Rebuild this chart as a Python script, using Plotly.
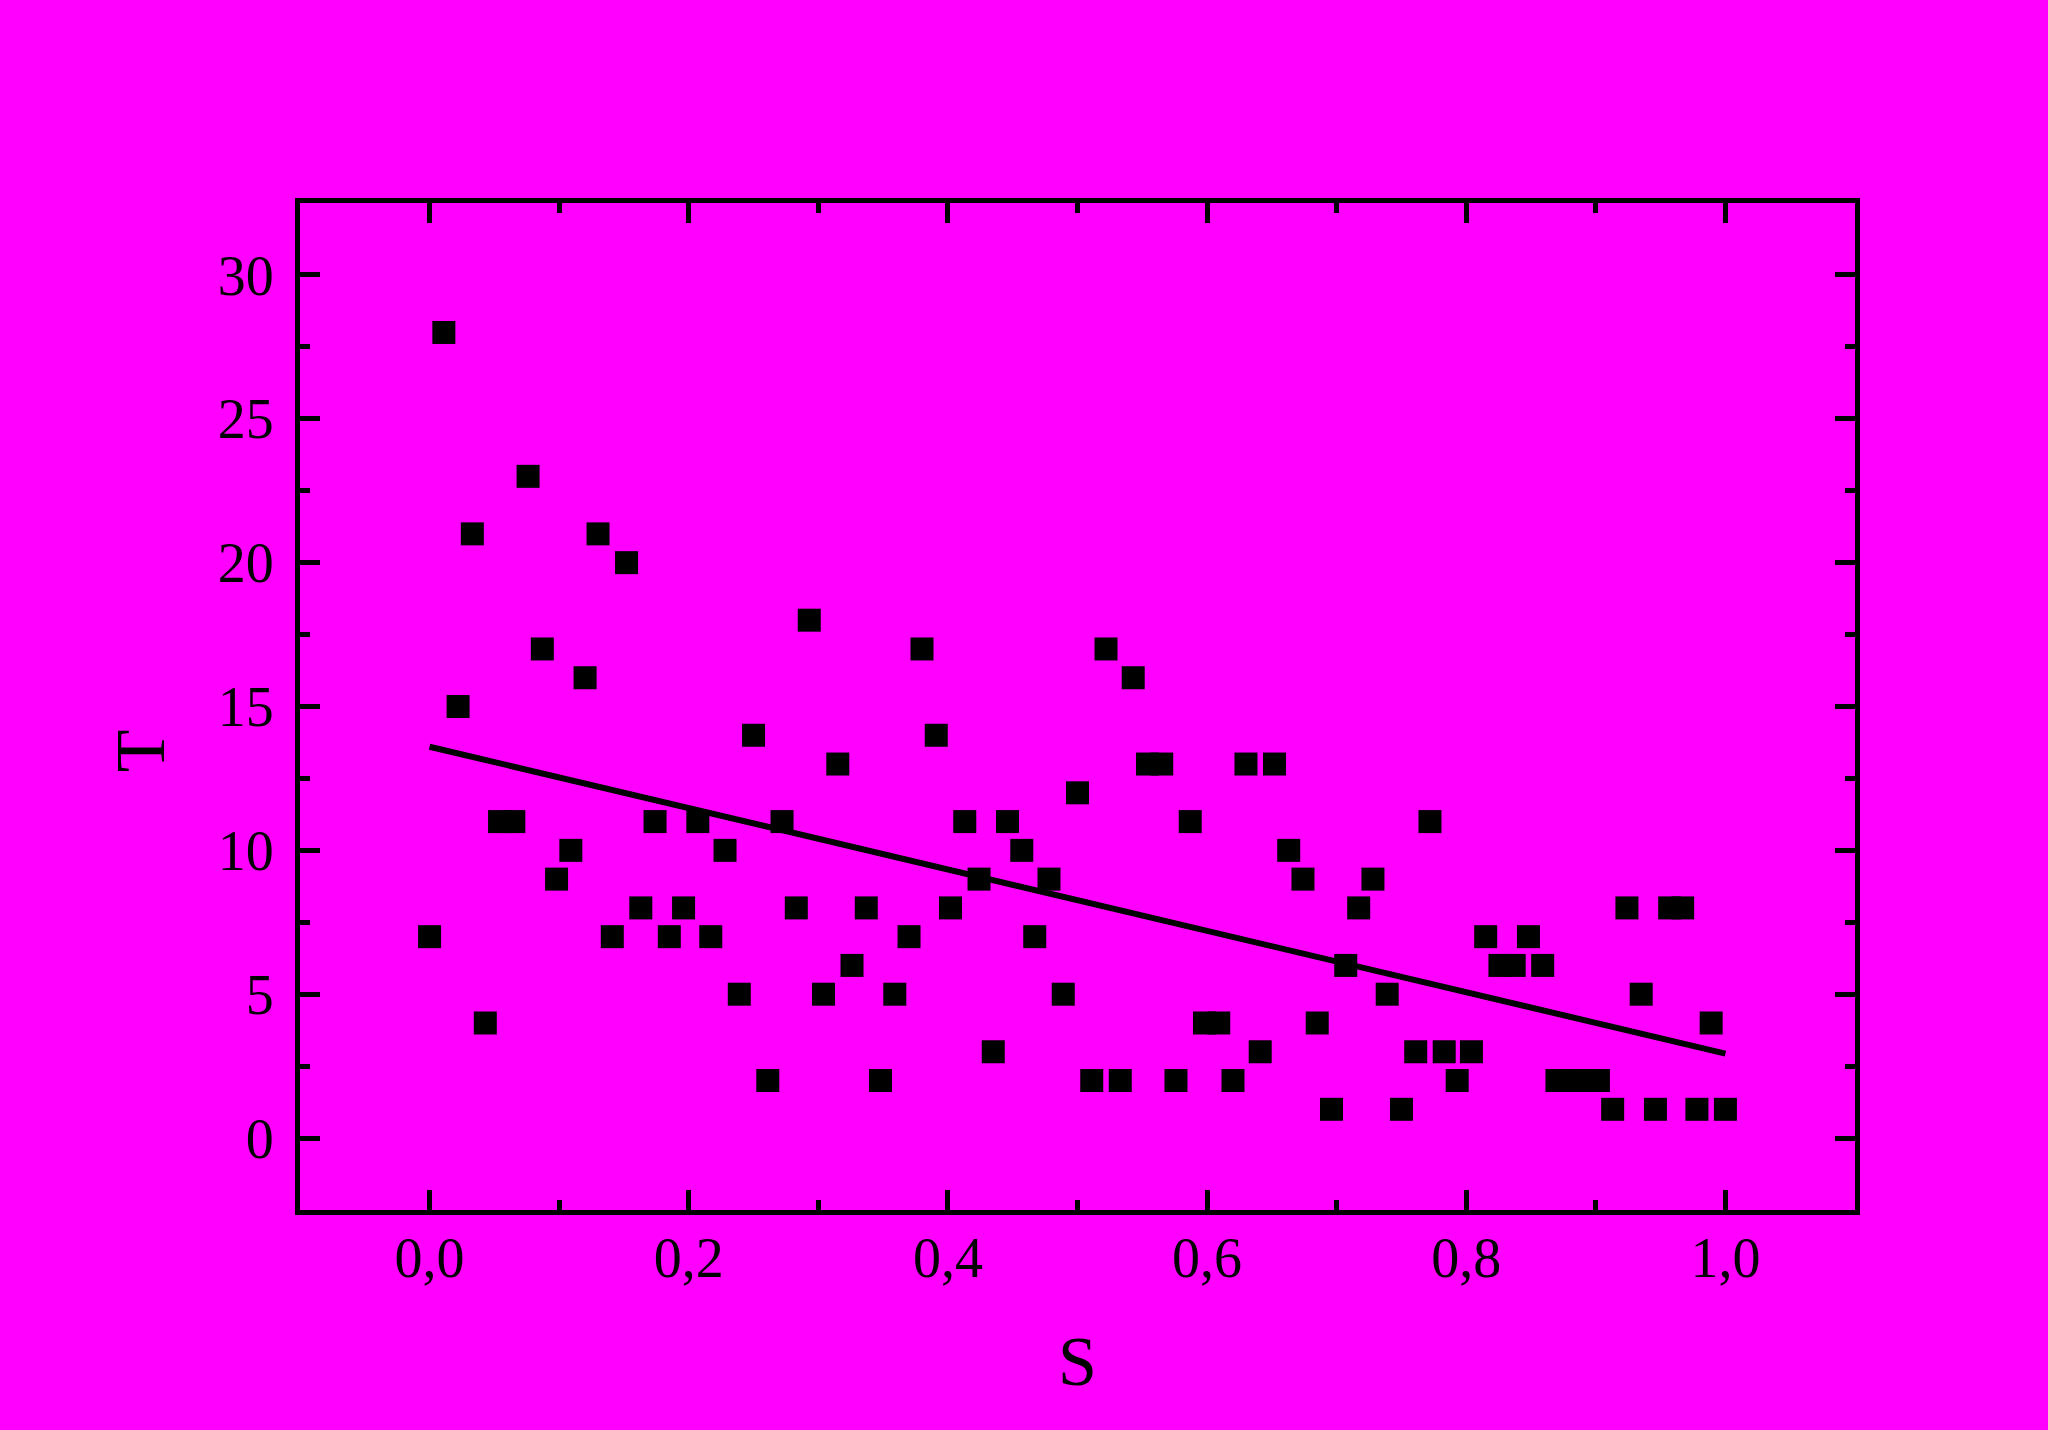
import numpy as np
import plotly.graph_objects as go

# ---- data ----
S = [0.000, 0.011, 0.022, 0.033, 0.043, 0.054, 0.065, 0.076, 0.087, 0.098,
     0.109, 0.120, 0.130, 0.141, 0.152, 0.163, 0.174, 0.185, 0.196, 0.207,
     0.217, 0.228, 0.239, 0.250, 0.261, 0.272, 0.283, 0.293, 0.304, 0.315,
     0.326, 0.337, 0.348, 0.359, 0.370, 0.380, 0.391, 0.402, 0.413, 0.424,
     0.435, 0.446, 0.457, 0.467, 0.478, 0.489, 0.500, 0.511, 0.522, 0.533,
     0.543, 0.554, 0.565, 0.576, 0.587, 0.598, 0.609, 0.620, 0.630, 0.641,
     0.652, 0.663, 0.674, 0.685, 0.696, 0.707, 0.717, 0.728, 0.739, 0.750,
     0.761, 0.772, 0.783, 0.793, 0.804, 0.815, 0.826, 0.837, 0.848, 0.859,
     0.870, 0.880, 0.891, 0.902, 0.913, 0.924, 0.935, 0.946, 0.957, 0.967,
     0.978, 0.989, 1.000]
T = [7, 28, 15, 21, 4, 11, 11, 23, 17, 9,
     10, 16, 21, 7, 20, 8, 11, 7, 8, 11,
     7, 10, 5, 14, 2, 11, 8, 18, 5, 13,
     6, 8, 2, 5, 7, 17, 14, 8, 11, 9,
     3, 11, 10, 7, 9, 5, 12, 2, 17, 2,
     16, 13, 13, 2, 11, 4, 4, 2, 13, 3,
     13, 10, 9, 4, 1, 6, 8, 9, 5, 1,
     3, 11, 3, 2, 3, 7, 6, 6, 7, 6,
     2, 2, 2, 2, 1, 8, 5, 1, 8, 8,
     1, 4, 1]

x_title = "S"
y_title = "T"

# linear fit
slope, intercept = np.polyfit(S, T, 1)
fit_x = [min(S), max(S)]
fit_y = [intercept + slope * v for v in fit_x]

BG = "#FF00FF"
FONT = "Liberation Serif"

fig = go.Figure()
fig.add_trace(go.Scatter(x=S, y=T, mode="markers",
                         marker=dict(symbol="square", size=23, color="black",
                                     line=dict(width=0)),
                         showlegend=False, cliponaxis=False))
fig.add_trace(go.Scatter(x=fit_x, y=fit_y, mode="lines",
                         line=dict(color="black", width=6),
                         showlegend=False))

axis_common = dict(showline=True, linecolor="black", linewidth=5, mirror="allticks",
                   ticks="inside", ticklen=20, tickwidth=5, tickcolor="black",
                   showgrid=False, zeroline=False,
                   tickfont=dict(family=FONT, size=56, color="black"))

fig.update_xaxes(range=[-0.1, 1.1], tick0=0, dtick=0.2, tickformat=".1f",
                 minor=dict(ticks="inside", ticklen=10, tickwidth=5, tickcolor="black", dtick=0.1, tick0=0),
                 ticklabelstandoff=-5, **axis_common)
fig.update_yaxes(range=[-2.5, 32.5], tick0=0, dtick=5,
                 minor=dict(ticks="inside", ticklen=10, tickwidth=5, tickcolor="black", dtick=2.5, tick0=0),
                 ticklabelstandoff=10, **axis_common)

fig.add_annotation(text=x_title, xref="paper", yref="paper", x=0.5, y=-0.150,
                   xanchor="center", yanchor="middle", showarrow=False,
                   font=dict(family=FONT, size=70, color="black"))
fig.add_annotation(text=y_title, xref="paper", yref="paper", x=-0.103, y=0.4565,
                   xanchor="center", yanchor="middle", showarrow=False, textangle=-90,
                   font=dict(family=FONT, size=70, color="black"))

fig.update_layout(width=2048, height=1430,
                  margin=dict(l=300, r=193, t=203, b=220, pad=0),
                  paper_bgcolor=BG, plot_bgcolor=BG,
                  separators=",.",
                  font=dict(family=FONT, color="black"))

fig.write_html("out.html", config={"displayModeBar": False},
               post_script="document.body.style.margin='0';document.body.style.background='#FF00FF';document.body.style.overflow='hidden';")
